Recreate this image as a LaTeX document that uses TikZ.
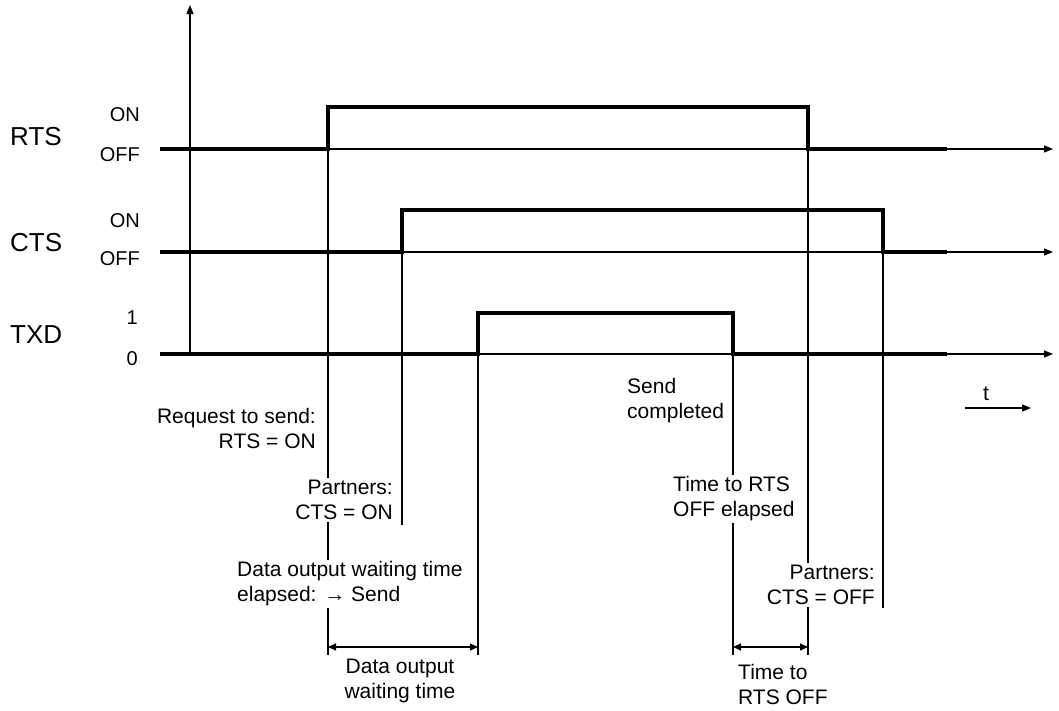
\documentclass[tikz,border=0pt]{standalone}
\usepackage{fontspec}
\setmainfont{Liberation Sans}
\usetikzlibrary{arrows.meta}

\tikzset{
  sig/.style={line width=3.6pt, line join=miter},
  axis/.style={line width=1.3pt, -{Triangle[length=9pt,width=7pt]}},
  guide/.style={line width=1.3pt},
  dim/.style={line width=1.1pt, {Triangle[length=8pt,width=7pt]}-{Triangle[length=8pt,width=7pt]}},
  note/.style={font=\fontsize{21}{25}\selectfont, fill=white, inner sep=2pt},
  level/.style={font=\fontsize{20}{24}\selectfont, anchor=east, inner sep=0pt},
  signame/.style={font=\fontsize{26}{30}\selectfont, anchor=west, inner sep=0pt},
}

\begin{document}
\begin{tikzpicture}[x=1pt, y=-1pt]

    \useasboundingbox (0,0) rectangle (1059,710);

    %% Levels
    \coordinate (yR) at (0,149);  \coordinate (yRh) at (0,107);
    \coordinate (yC) at (0,252);  \coordinate (yCh) at (0,210);
    \coordinate (yT) at (0,354);  \coordinate (yTh) at (0,313);
    \coordinate (yD) at (0,647);  \coordinate (yB) at (0,655);

    %% Instants
    \coordinate (xS) at (160,0);  \coordinate (xE) at (947,0);
    \coordinate (xA) at (1053,0); \coordinate (xY) at (190,0);
    \coordinate (x1) at (328,0);  \coordinate (x2) at (402,0);
    \coordinate (x3) at (478,0);  \coordinate (x4) at (733,0);
    \coordinate (x5) at (808,0);  \coordinate (x6) at (883,0);

    %% --- Guide lines ---
    \draw[guide] (x1 |- yR) -- (x1 |- yB);
    \draw[guide] (x2 |- yC) -- (x2 |- 0,525);
    \draw[guide] (x3 |- yT) -- (x3 |- yB);
    \draw[guide] (x4 |- yT) -- (x4 |- yB);
    \draw[guide] (x5 |- yR) -- (x5 |- yB);
    \draw[guide] (x6 |- yC) -- (x6 |- 0,608);

    %% --- Axes ---
    \draw[axis] (xY |- yT) -- (xY |- 0,5);
    \draw[axis] (xS |- yR) -- (xA |- yR);
    \draw[axis] (xS |- yC) -- (xA |- yC);
    \draw[axis] (xS |- yT) -- (xA |- yT);

    %% --- Signals ---
    \draw[sig] (xS |- yR) -- (x1 |- yR) -- (x1 |- yRh) -- (x5 |- yRh) -- (x5 |- yR) -- (xE |- yR);
    \draw[sig] (xS |- yC) -- (x2 |- yC) -- (x2 |- yCh) -- (x6 |- yCh) -- (x6 |- yC) -- (xE |- yC);
    \draw[sig] (xS |- yT) -- (x3 |- yT) -- (x3 |- yTh) -- (x4 |- yTh) -- (x4 |- yT) -- (xE |- yT);

    %% Signal names and levels
    \node[signame] (rtsName) at (10,137) {RTS};
    \node[signame] (ctsName) at (10,243) {CTS};
    \node[signame] (txdName) at (10,335) {TXD};
    \node[level] (rtsOn)  at (140,115) {ON};
    \node[level] (rtsOff) at (140,155) {OFF};
    \node[level] (ctsOn)  at (140,221) {ON};
    \node[level] (ctsOff) at (140,259) {OFF};
    \node[level] (txdOne)  at (138,318) {1};
    \node[level] (txdZero) at (138,359) {0};

    %% --- Notes ---
    \node[note, anchor=east, align=right] (reqSend) at (318,428) {Request to send:\\RTS = ON};
    \node[note, anchor=east, align=right] (ctsOnNote) at (395,500) {Partners:\\CTS = ON};
    \node[note, anchor=west, align=left] (waitDone) at (235,584) {Data output waiting time\\elapsed: → Send};
    \node[note, anchor=west, align=left] (sendDone) at (625,401) {Send\\completed};
    \node[note, anchor=west, align=left] (rtsDelay) at (671,499) {Time to RTS\\OFF elapsed};
    \node[note, anchor=east, align=right] (ctsOffNote) at (877,585) {Partners:\\CTS = OFF};

    %% Durations
    \draw[dim] (x1 |- yD) -- (x3 |- yD);
    \draw[dim] (x4 |- yD) -- (x5 |- yD);
    \node[note, align=center] (waitTime) at (400,681) {Data output\\waiting time};
    \node[note, anchor=west, align=left] (rtsTime) at (736,684) {Time to\\RTS OFF};

    %% Time arrow
    \coordinate (tS) at (965,408);
    \coordinate (tE) at (1031,408);
    \draw[axis] (tS) -- (tE);
    \node[font=\fontsize{21}{25}\selectfont, inner sep=0pt] (tLbl) at (986,394) {t};

\end{tikzpicture}
\end{document}
